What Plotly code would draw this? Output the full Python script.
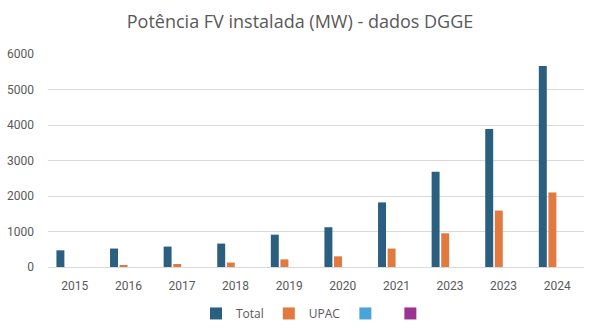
import plotly.graph_objects as go

years = ["2015", "2016", "2017", "2018", "2019", "2020", "2021", "2023", "2023", "2024"]
total = [470, 520, 575, 660, 910, 1120, 1820, 2680, 3890, 5660]
upac = [0, 45, 85, 125, 215, 300, 520, 950, 1590, 2100]
serie3 = [None] * len(years)
serie4 = [None] * len(years)

names = ["Total", "UPAC", "", ""]
colors = ["#2B5F80", "#E2793E", "#4AA3D9", "#9C3393"]
series = [total, upac, serie3, serie4]

pos = list(range(len(years)))

fig = go.Figure()
for name, vals, col in zip(names, series, colors):
    fig.add_trace(go.Bar(
        x=pos, y=vals, name=name,
        marker=dict(color=col, line=dict(width=0)),
    ))

fig.update_layout(
    width=600, height=336,
    paper_bgcolor="white", plot_bgcolor="white",
    margin=dict(l=48, r=16, t=54, b=69, autoexpand=False),
    barmode="group", bargap=0.284, bargroupgap=0.17,
    title=dict(text="Potência FV instalada (MW) - dados DGGE",
               x=0.5, xanchor="center", y=1 - 22 / 336, yanchor="middle",
               font=dict(family="Open Sans", size=18, color="#595959")),
    font=dict(family="Open Sans", size=12, color="#595959"),
    showlegend=True,
    legend=dict(orientation="h", x=0.5, xanchor="center", y=-0.15, yanchor="top",
                font=dict(size=12, color="#595959"), itemwidth=30,
                traceorder="normal"),
    xaxis=dict(tickmode="array", tickvals=pos, ticktext=years,
               range=[-0.5, len(years) - 0.5], showgrid=False, automargin=False,
               showline=True, linecolor="#D9D9D9", linewidth=1,
               ticks="", ticklabelstandoff=8,
               tickfont=dict(family="Roboto", size=12, color="#595959")),
    yaxis=dict(range=[0, 6000], dtick=1000, showgrid=True, gridcolor="#D9D9D9",
               gridwidth=1, zeroline=False, showline=False, ticks="", automargin=False,
               ticklabelstandoff=13,
               tickfont=dict(family="Roboto", size=12, color="#595959")),
)

fig.write_html("out.html")
